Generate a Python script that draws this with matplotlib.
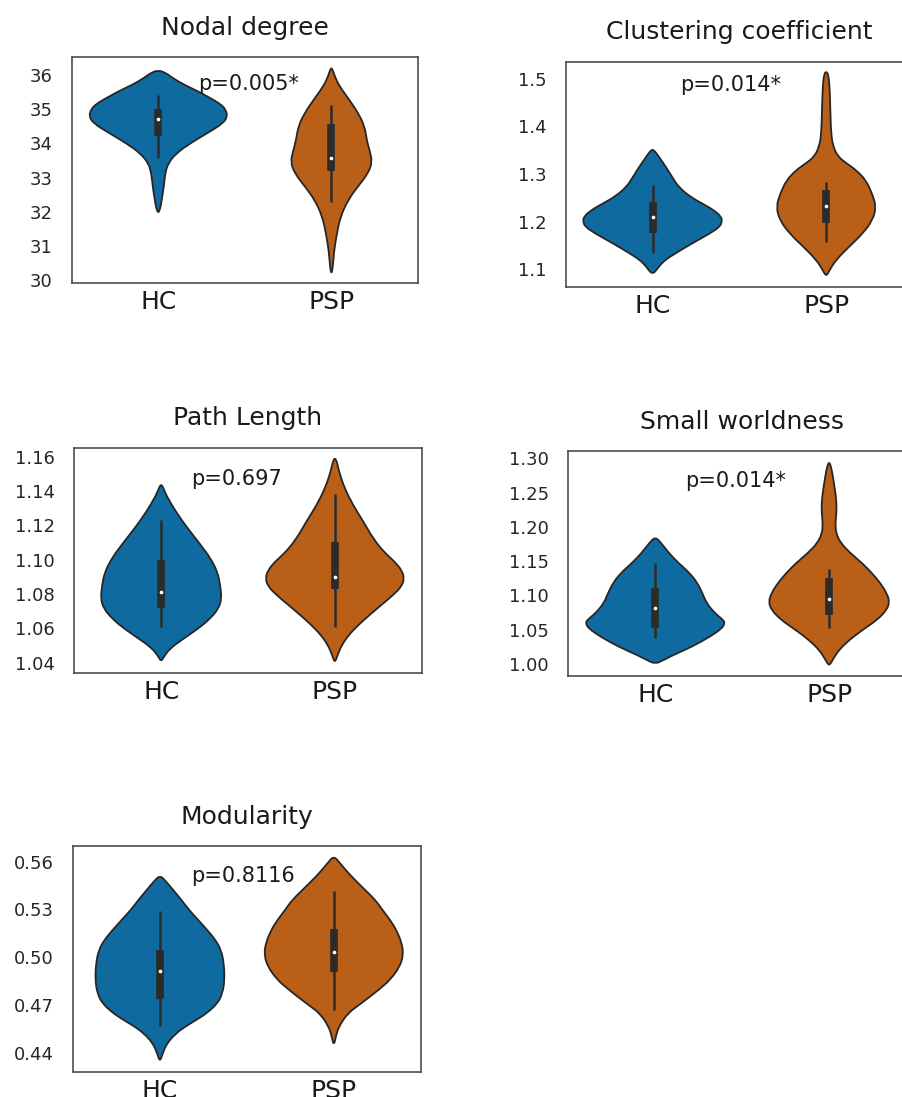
import numpy as np
import matplotlib.pyplot as plt
from matplotlib.path import Path
from matplotlib.patches import PathPatch

W, H = 903, 1097
groups = ['HC', 'PSP']
colors = ['#0e6a9f', '#b95f17']

# violin outlines: y levels and relative half widths (1 = full width)
# Nodal degree
nd_hc_y = [36.15, 36.05, 35.91, 35.71, 35.54, 35.34, 35.15, 35.00, 34.80, 34.59, 34.29,
           34.00, 33.71, 33.41, 33.12, 32.73, 32.34, 32.10, 31.95]
nd_hc_d = [0, .12, .21, .38, .56, .74, .90, .97, 1.0, .94, .70, .46, .26, .14, .10, .08, .05, .03, 0]
nd_psp_y = [36.21, 36.15, 35.95, 35.66, 35.27, 34.88, 34.49, 34.10, 33.80, 33.46, 33.12, 32.73,
            32.34, 31.85, 31.37, 30.88, 30.39, 30.26, 30.21]
nd_psp_d = [0, .02, .05, .12, .26, .39, .48, .51, .55, .59, .53, .38, .24, .13, .08, .04, .02,
            .01, 0]
nd_box = [[33.56, 34.21, 34.71, 35.02, 35.41], [32.29, 33.20, 33.56, 34.57, 35.12]]

# Clustering coefficient
cc_hc_y = [1.3522, 1.3470, 1.3368, 1.3157, 1.2947, 1.2737, 1.2527, 1.2387, 1.2247, 1.2107,
           1.2002, 1.1896, 1.1756, 1.1546, 1.1336, 1.1196, 1.1056, 1.0881]
cc_hc_d = [0, .04, .09, .19, .28, .37, .54, .71, .88, .99, 1.0, .97, .83, .57, .33, .18, .09, 0]
cc_psp_y = [1.5154, 1.5100, 1.4839, 1.4348, 1.3858, 1.3578, 1.3368, 1.3228, 1.3087, 1.2877,
            1.2597, 1.2317, 1.2036, 1.1756, 1.1476, 1.1196, 1.0986, 1.0849]
cc_psp_d = [0, .03, .05, .06, .07, .10, .17, .29, .43, .57, .66, .72, .67, .53, .33, .14, .05, 0]
cc_box = [[1.135, 1.176, 1.210, 1.242, 1.277], [1.158, 1.198, 1.234, 1.267, 1.284]]

# Path Length
pl_hc_y = [1.1439, 1.1420, 1.1377, 1.1280, 1.1183, 1.1086, 1.1008, 1.0930, 1.0853, 1.0775,
           1.0717, 1.0658, 1.0600, 1.0542, 1.0484, 1.0435, 1.0406]
pl_hc_d = [0, .03, .07, .21, .38, .57, .71, .81, .85, .87, .83, .71, .54, .33, .13, .04, 0]
pl_psp_y = [1.1594, 1.1570, 1.1513, 1.1416, 1.1319, 1.1222, 1.1124, 1.1047, 1.0989, 1.0940,
            1.0891, 1.0843, 1.0794, 1.0736, 1.0678, 1.0620, 1.0561, 1.0503, 1.0445, 1.0420,
            1.0406]
pl_psp_d = [0, .03, .06, .14, .26, .41, .55, .70, .86, .96, 1.0, .96, .84, .67, .50, .34, .20,
            .10, .04, .02, 0]
pl_box = [[1.061, 1.0717, 1.081, 1.0998, 1.1231], [1.061, 1.0827, 1.0901, 1.1101, 1.1381]]

# Small worldness
sw_hc_y = [1.1857, 1.1760, 1.1614, 1.1468, 1.1323, 1.1177, 1.1031, 1.0885, 1.0739, 1.0642,
           1.0593, 1.0520, 1.0399, 1.0253, 1.0131, 1.0058, 1.0000]
sw_hc_d = [0, .09, .20, .34, .50, .61, .68, .74, .86, .98, 1.0, .96, .79, .53, .26, .12, 0]
sw_psp_y = [1.2966, 1.2830, 1.2635, 1.2441, 1.2246, 1.2052, 1.1906, 1.1760, 1.1614, 1.1468,
            1.1323, 1.1177, 1.1031, 1.0909, 1.0788, 1.0642, 1.0496, 1.0350, 1.0204, 1.0058,
            0.9971]
sw_psp_d = [0, .04, .07, .10, .11, .09, .10, .17, .31, .48, .62, .74, .83, .87, .83, .69, .48,
            .29, .14, .05, 0]
sw_box = [[1.0375, 1.052, 1.0812, 1.1113, 1.1478], [1.052, 1.0715, 1.0943, 1.126, 1.1386]]

# Modularity
mo_hc_y = [0.5512, 0.5485, 0.5422, 0.5359, 0.5296, 0.5234, 0.5171, 0.5108, 0.5045, 0.4961,
           0.4857, 0.4773, 0.4710, 0.4647, 0.4605, 0.4563, 0.4521, 0.4459, 0.4396, 0.4343]
mo_hc_d = [0, .07, .19, .31, .42, .55, .68, .80, .88, .92, .93, .90, .83, .67, .52, .36, .23,
           .10, .04, 0]
mo_psp_y = [0.5636, 0.5590, 0.5527, 0.5443, 0.5359, 0.5296, 0.5234, 0.5171, 0.5087, 0.5014,
            0.4940, 0.4857, 0.4804, 0.4752, 0.4699, 0.4647, 0.4563, 0.4501, 0.4444]
mo_psp_d = [0, .09, .21, .40, .60, .70, .81, .90, .98, 1.0, .95, .81, .67, .52, .36, .20, .07,
            .03, 0]
mo_box = [[0.4568, 0.4735, 0.4915, 0.5045, 0.529], [0.4668, 0.4909, 0.5035, 0.5177, 0.5416]]

titles = ['Nodal degree', 'Clustering coefficient', 'Path Length', 'Small worldness', 'Modularity']
pvals = ['p=0.005*', 'p=0.014*', 'p=0.697', 'p=0.014*', 'p=0.8116']
p_pos = [(0.23, 35.56), (0.16, 1.4755), (0.171, 1.1435), (0.171, 1.2587), (0.177, 0.5474)]
ylims = [(29.91, 36.53), (1.0636, 1.536), (1.0338, 1.1652), (0.9825, 1.3107), (0.4281, 0.5698)]
yticks = [np.arange(30, 36.5, 1), np.arange(1.1, 1.55, 0.1), np.arange(1.04, 1.165, 0.02),
          np.arange(1.0, 1.31, 0.05), np.arange(0.44, 0.565, 0.03)]
yfmt = ['{:.0f}', '{:.1f}', '{:.2f}', '{:.2f}', '{:.2f}']
violins = [[(nd_hc_y, nd_hc_d), (nd_psp_y, nd_psp_d)],
           [(cc_hc_y, cc_hc_d), (cc_psp_y, cc_psp_d)],
           [(pl_hc_y, pl_hc_d), (pl_psp_y, pl_psp_d)],
           [(sw_hc_y, sw_hc_d), (sw_psp_y, sw_psp_d)],
           [(mo_hc_y, mo_hc_d), (mo_psp_y, mo_psp_d)]]
boxes = [nd_box, cc_box, pl_box, sw_box, mo_box]

# axes boxes in pixels: left, right, top, bottom
boxes_px = [(71.7, 418, 57, 283), (565.7, 913, 61.7, 286.7), (74.3, 421.7, 447.7, 673.3),
            (568.3, 916, 451, 676), (73, 420.7, 846, 1071.7)]


def smooth_closed(pts):
    # closed quadratic b-spline through the midpoints, the read points act as controls
    n = len(pts)
    mids = [(pts[i] + pts[(i + 1) % n]) / 2.0 for i in range(n)]
    verts = [mids[0]]
    codes = [Path.MOVETO]
    for i in range(1, n + 1):
        verts += [pts[i % n], mids[i % n]]
        codes += [Path.CURVE3, Path.CURVE3]
    return Path(np.array(verts), codes)


def draw_violin(ax, pos, ys, dens, color):
    ys = np.array(ys)
    hw = np.array(dens) * 0.4
    right = np.column_stack([pos + hw, ys])
    left = np.column_stack([pos - hw[1:-1], ys[1:-1]])[::-1]
    pts = np.vstack([right, left])
    patch = PathPatch(smooth_closed(pts), facecolor=color, edgecolor='#262626', lw=1.3, zorder=2)
    ax.add_patch(patch)


plt.rcParams['font.family'] = ['DejaVu Sans']
fig = plt.figure(figsize=(W / 100, H / 100), dpi=100)

for k in range(5):
    l, r, t, b = boxes_px[k]
    ax = fig.add_axes([l / W, 1 - b / H, (r - l) / W, (b - t) / H])
    for j in range(2):
        ys, dens = violins[k][j]
        draw_violin(ax, j, ys, dens, colors[j])
        lo, q1, med, q3, hi = boxes[k][j]
        ax.vlines(j, lo, hi, color='#2b2b2b', lw=1.8, zorder=3)
        ax.vlines(j, q1, q3, color='#2b2b2b', lw=5.5, zorder=3)
        ax.scatter([j], [med], s=7, color='white', zorder=4, linewidths=0)
    ax.text(p_pos[k][0], p_pos[k][1], pvals[k], fontsize=15, color='#1a1a1a', zorder=5)
    ax.set_xlim(-0.5, 1.5)
    ax.set_ylim(*ylims[k])
    ax.set_xticks([0, 1])
    ax.set_xticklabels(groups)
    ax.set_yticks(yticks[k])
    ax.set_yticklabels([yfmt[k].format(v) for v in yticks[k]])
    ax.tick_params(axis='y', length=0, pad=14, labelsize=13, labelcolor='#262626')
    ax.tick_params(axis='x', length=0, pad=5, labelsize=18, labelcolor='#1a1a1a')
    for s in ax.spines.values():
        s.set_color('#4d4d4d')
        s.set_linewidth(1.2)
    ax.set_title(titles[k], fontsize=18, pad=16, color='#1a1a1a')

fig.savefig('out.png', dpi=100)
